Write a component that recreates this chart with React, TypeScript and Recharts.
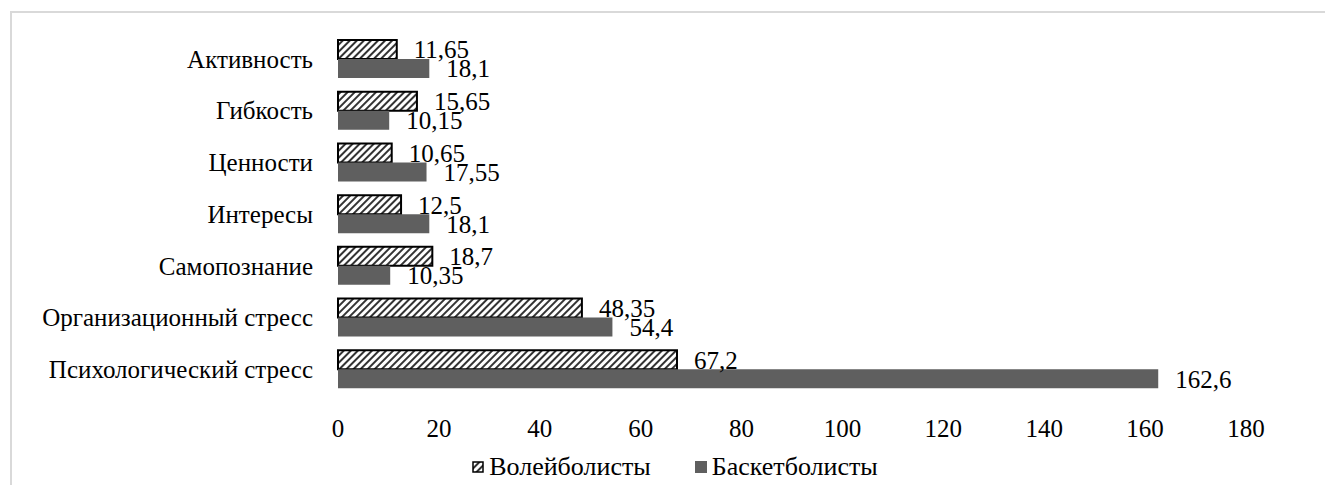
import { BarChart, Bar, XAxis, YAxis, Legend, LabelList } from 'recharts';

const categories = [
  'Активность',
  'Гибкость',
  'Ценности',
  'Интересы',
  'Самопознание',
  'Организационный стресс',
  'Психологический стресс',
];
const volleyball = [11.65, 15.65, 10.65, 12.5, 18.7, 48.35, 67.2];
const basketball = [18.1, 10.15, 17.55, 18.1, 10.35, 54.4, 162.6];
const xTicks = [0, 20, 40, 60, 80, 100, 120, 140, 160, 180];

const seriesNames = { volley: 'Волейболисты', basket: 'Баскетболисты' };

const FONT = "'Liberation Serif', Tinos, 'Nimbus Roman', Times, 'Noto Serif', 'DejaVu Serif', serif";
const DARK = '#5f5f5f';

const data = categories.map((name, i) => ({
  name,
  volley: volleyball[i],
  basket: basketball[i],
}));

const fmt = (v: any) => String(v).replace('.', ',');

function LegendContent() {
  return (
    <div
      style={{
        display: 'flex',
        justifyContent: 'center',
        alignItems: 'center',
        height: 32,
        fontFamily: FONT,
        fontSize: 26,
        color: '#000',
      }}
    >
      <svg width={12} height={12} style={{ marginRight: 5 }}>
        <rect x={1} y={1} width={10} height={10} fill="url(#hatch)" stroke="#000" strokeWidth={1.5} />
      </svg>
      <span style={{ marginRight: 44 }}>{seriesNames.volley}</span>
      <svg width={12} height={12} style={{ marginRight: 5 }}>
        <rect x={0} y={0} width={12} height={12} fill={DARK} />
      </svg>
      <span>{seriesNames.basket}</span>
    </div>
  );
}

export default function App() {
  return (
    <div style={{ position: 'absolute', left: 0, top: 0, width: 1325, height: 485, background: '#fff' }}>
      <div
        style={{
          position: 'absolute',
          left: 10,
          top: 11,
          width: 1315,
          height: 474,
          boxSizing: 'border-box',
          borderTop: '2px solid #d9d9d9',
          borderLeft: '2px solid #d9d9d9',
        }}
      />
      <div style={{ position: 'absolute', left: 0, top: 0 }}>
        <BarChart
          width={1325}
          height={485}
          data={data}
          layout="vertical"
          margin={{ top: 33, right: 79, left: 0, bottom: 2 }}
          barSize={19}
          barGap={0}
        >
          <defs>
            <pattern id="hatch" width="5" height="5" patternUnits="userSpaceOnUse" patternTransform="rotate(45)">
              <rect width="5" height="5" fill="#fff" />
              <line x1="1" y1="0" x2="1" y2="5" stroke="#333" strokeWidth="2" />
            </pattern>
          </defs>
          <XAxis
            type="number"
            domain={[0, 180]}
            ticks={xTicks}
            axisLine={false}
            tickLine={false}
            tickSize={0}
            tickMargin={24}
            height={56}
            tick={{ fontSize: 25, fill: '#000', fontFamily: FONT }}
          />
          <YAxis
            type="category"
            dataKey="name"
            width={338}
            axisLine={false}
            tickLine={false}
            tickSize={0}
            tickMargin={25}
            interval={0}
            tick={{ fontSize: 25, fill: '#000', fontFamily: FONT }}
          />
          <Legend
            verticalAlign="bottom"
            content={() => <LegendContent />}
            wrapperStyle={{ left: 0, width: 1350 }}
          />
          <Bar
            dataKey="volley"
            name={seriesNames.volley}
            fill="url(#hatch)"
            stroke="#000"
            strokeWidth={2}
            isAnimationActive={false}
          >
            <LabelList
              dataKey="volley"
              position="right"
              offset={17}
              formatter={fmt}
              style={{ fontSize: 25, fill: '#000', fontFamily: FONT }}
            />
          </Bar>
          <Bar dataKey="basket" name={seriesNames.basket} fill={DARK} isAnimationActive={false}>
            <LabelList
              dataKey="basket"
              position="right"
              offset={17}
              formatter={fmt}
              style={{ fontSize: 25, fill: '#000', fontFamily: FONT }}
            />
          </Bar>
        </BarChart>
      </div>
    </div>
  );
}
